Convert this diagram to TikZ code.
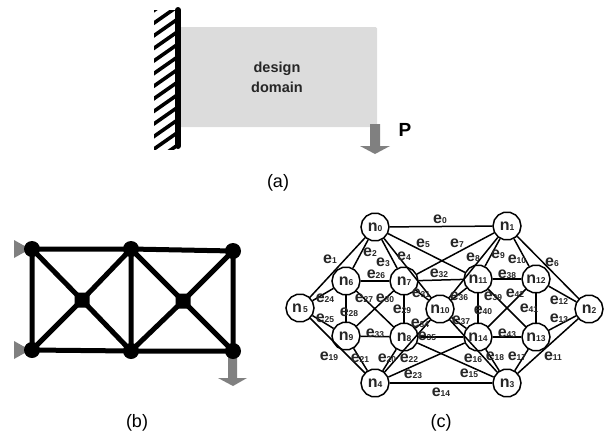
\documentclass[tikz,border=0pt]{standalone}
\usepackage{fontspec}
\setmainfont{Liberation Sans}
\usetikzlibrary{shapes.geometric}
\definecolor{dom}{HTML}{DCDCDC}
\definecolor{arr}{HTML}{808080}
\definecolor{labc}{HTML}{262626}
\tikzset{
  gn/.style={draw=black,line width=1.5pt,fill=white,regular polygon,regular polygon sides=14,minimum size=28pt,inner sep=0pt},
  ge/.style={line width=1.5pt,black},
  tn/.style={circle,fill=black,minimum size=16pt,inner sep=0pt},
  tm/.style={rectangle,rounded corners=2pt,fill=black,minimum size=15pt,inner sep=0pt},
  te/.style={line width=5pt,black},
  capt/.style={font=\fontsize{18}{20}\selectfont},
  elabel/.style={inner sep=0pt,text=labc,font=\bfseries},
  load/.style={fill=arr,draw=none}
}
\newcommand{\nlab}[2]{{\fontsize{16}{15}\selectfont\bfseries #1}{\fontsize{8.5}{9}\selectfont\bfseries #2}}
\newcommand{\elab}[3]{\node[elabel] (e#1) at (#2,#3) {\nlab{e}{#1}};}
\begin{document}
\begin{tikzpicture}[x=1pt,y=-1pt]
\useasboundingbox (0,0) rectangle (610,437);
% (a)
\fill[dom,rounded corners=1.5pt] (178,27) rectangle (377,127);
\begin{scope}
\clip (154,10) rectangle (176,149);
\foreach \k in {-1,...,12}{
  \draw[line width=3.6pt,black] (150,{25.8+\k*12.6}) -- (182,{3.4+\k*12.6});
}
\end{scope}
\draw[line width=6pt,black,line cap=round] (178,10) -- (178,146);
\fill[load] (370,124) -- (380,124) -- (380,146) -- (390,146) -- (375,154) -- (360,146) -- (370,146) -- cycle;
\node[inner sep=0pt,font=\fontsize{14.5}{20}\selectfont\bfseries,align=center,text=labc] (dd) at (277,77) {design\\domain};
\node[inner sep=0pt,font=\fontsize{19}{20}\selectfont\bfseries] (P) at (405,130) {P};
\node[capt,inner sep=0pt] (capa) at (278,183) {(a)};
% (b)
\fill[arr] (14,240) -- (30,249) -- (14,258) -- cycle;
\fill[arr] (14,341) -- (30,350) -- (14,359) -- cycle;
\fill[load] (228,355) -- (237,355) -- (237,378) -- (247,378) -- (233,386) -- (218,378) -- (228,378) -- cycle;
\node[tn] (a) at (32,249) {};
\node[tn] (b) at (131,249) {};
\node[tn] (c) at (233,251) {};
\node[tn] (d) at (32,350) {};
\node[tn] (f) at (131,351) {};
\node[tn] (g) at (233,351) {};
\node[tm] (h) at (82,300) {};
\node[tm] (i) at (183,301) {};
\draw[te] (a.center)--(b.center) (b.center)--(c.center) (d.center)--(f.center) (f.center)--(g.center)
 (a.center)--(d.center) (b.center)--(f.center) (c.center)--(g.center)
 (a.center)--(h.center) (h.center)--(f.center) (d.center)--(h.center) (h.center)--(b.center)
 (b.center)--(i.center) (i.center)--(g.center) (f.center)--(i.center) (i.center)--(c.center);
\node[capt,inner sep=0pt] (capb) at (137,423) {(b)};
% (c)
\foreach \n/\x/\y in {0/375/227,1/507/226,2/589/309,3/507/383,4/375/383,5/300/308,6/346/281,7/404/281,8/404/337,9/346/336,10/440/309,11/478/279,12/536/279,13/536/337,14/478/337}{
  \node[gn] (n\n) at (\x,\y) {};
}
\foreach \p/\q in {0/1,0/5,0/6,0/7,0/10,0/11,1/2,1/7,1/10,1/11,1/12,2/3,2/12,2/13,3/4,3/10,3/8,3/13,3/14,4/5,4/8,4/9,4/10,4/14,5/6,5/9,6/7,6/8,6/9,7/8,7/9,7/10,7/11,8/10,8/14,10/11,10/14,11/12,11/13,11/14,12/13,12/14,13/14,9/8}{
  \draw[ge] (n\p) -- (n\q);
}
\foreach \n/\s/\x/\y in {0/0/375/227,1/1/507/226,2/2/589/309,3/3/507/383,4/4/375/383,6/6/346/281,7/7/404/281,8/8/404/337,9/9/346/336,10/10/440/309,11/11/478/279,12/12/536/279,13/13/536/337,14/14/478/337}{
  \node[elabel] (t\n) at (\x,\y) {\nlab{n}{\s}};
}
\node[elabel] (t5) at (300,308) {\nlab{n}{\,5}};
\elab{0}{440}{219}\elab{1}{330}{259}\elab{2}{370}{252}\elab{3}{383}{262}\elab{4}{404}{256}
\elab{5}{423}{243}\elab{6}{552}{262}\elab{7}{457}{243}\elab{8}{473}{257}\elab{9}{498}{254}
\elab{10}{517}{259}\elab{11}{553}{356}\elab{12}{559}{300}\elab{13}{559}{318}\elab{14}{441}{392}
\elab{15}{469}{373}\elab{16}{473}{358}\elab{17}{517}{356}\elab{18}{495}{356}\elab{19}{329}{356}
\elab{20}{387}{358}\elab{21}{360}{358}\elab{22}{409}{358}\elab{23}{413}{374}\elab{24}{325}{298}
\elab{25}{325}{318}\elab{26}{376}{274}\elab{27}{364}{298}\elab{28}{349}{312}\elab{29}{402}{309}
\elab{30}{385}{298}\elab{31}{421}{293}\elab{32}{439}{273}\elab{33}{375}{333}\elab{34}{420}{323}
\elab{35}{427}{336}\elab{36}{459}{296}\elab{37}{461}{320}\elab{38}{507}{274}\elab{39}{493}{296}
\elab{40}{483}{310}\elab{41}{529}{308}\elab{42}{515}{293}\elab{43}{507}{333}
\node[capt,inner sep=0pt] (capc) at (441,423) {(c)};
\end{tikzpicture}
\end{document}
